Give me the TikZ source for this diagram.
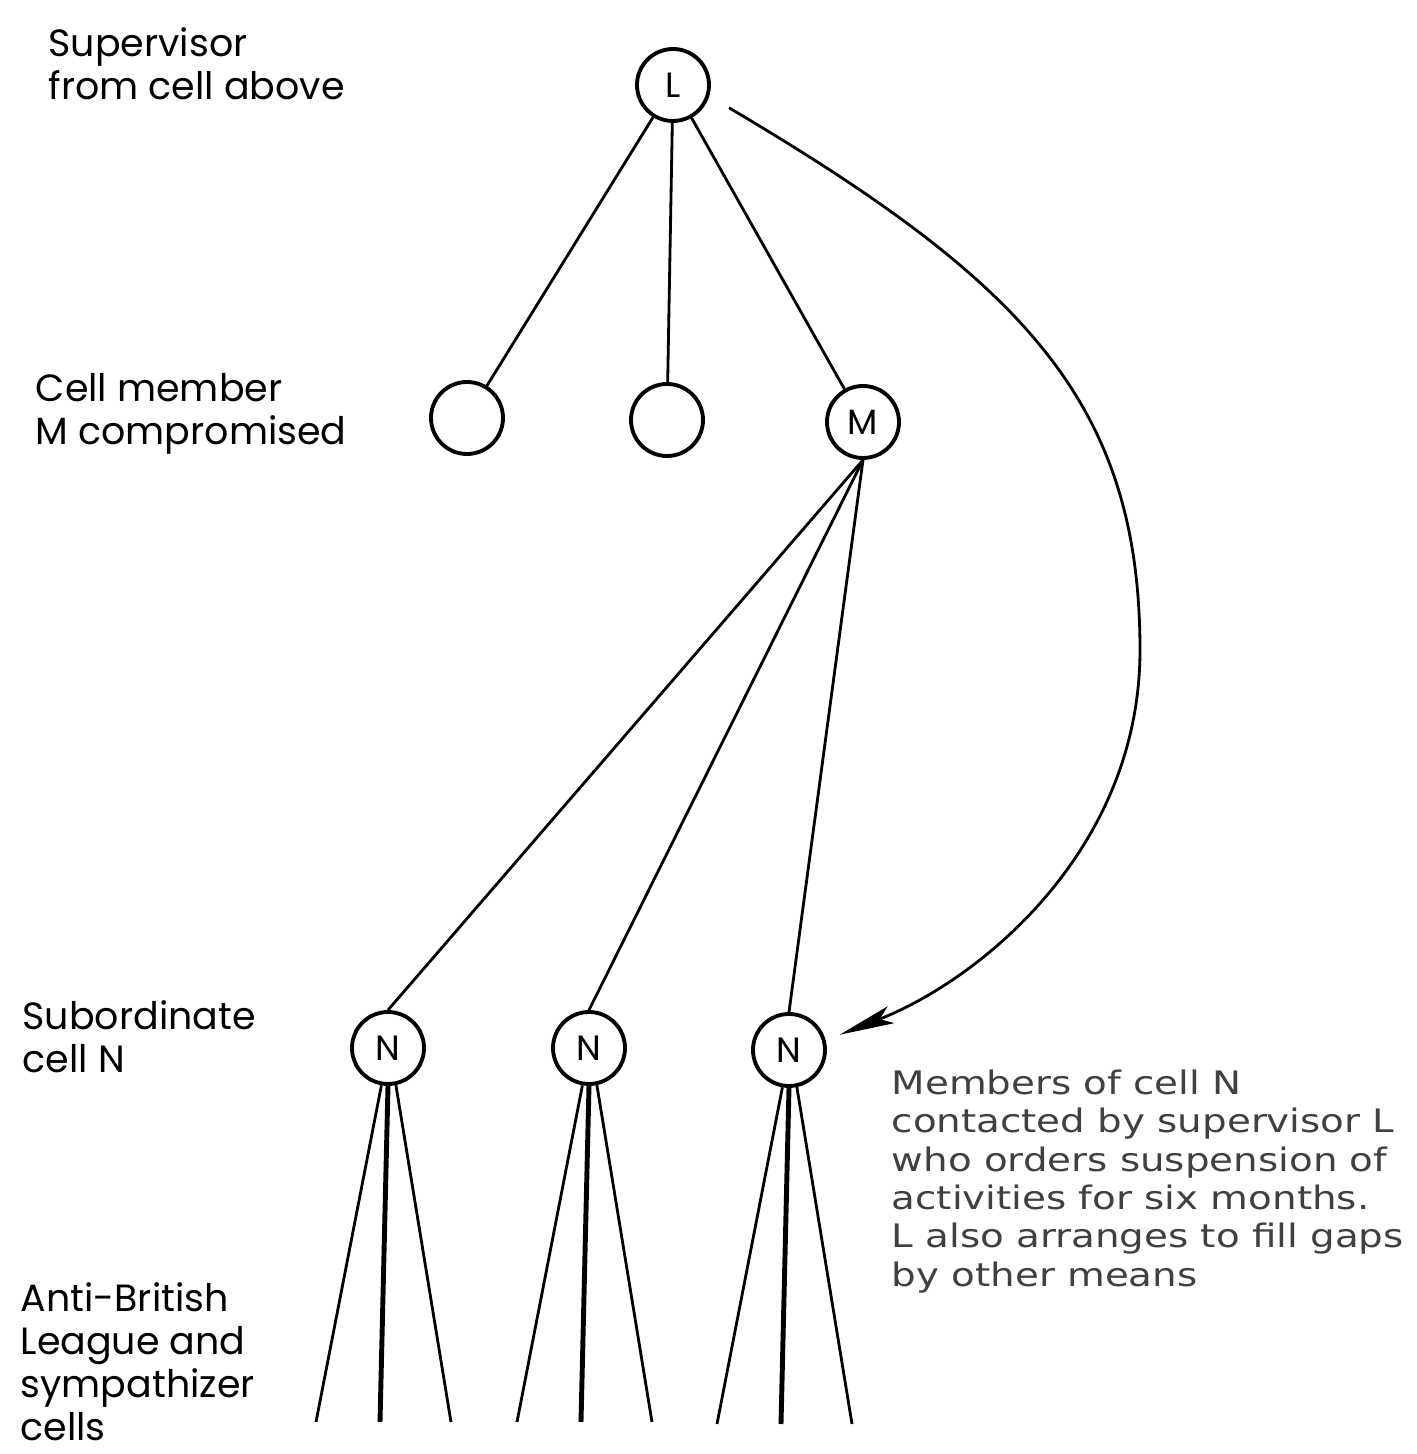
\documentclass[tikz,border=0pt]{standalone}
\usepackage{fontspec}
\setmainfont{Poppins}
\newfontfamily\notefont[FakeStretch=1.2]{DejaVu Sans}
\usetikzlibrary{arrows.meta,calc}

\begin{document}
\begin{tikzpicture}[
    cell/.style={circle,draw,line width=1.1pt,minimum size=0.72cm,inner sep=0pt,font=\fontsize{10}{11}\selectfont},
    lbl/.style={anchor=west,align=left,inner sep=0pt,font=\fontsize{10.8}{12.3}\selectfont},
    link/.style={line width=0.8pt},
    leg/.style={line width=0.8pt},
    mainleg/.style={line width=1.4pt}]
  \useasboundingbox (0,0) rectangle (14.16,14.54);

  % supervisor and his cell
  \node[cell] (L) at (6.73,13.69) {L};
  \node[cell] (c1) at (4.67,10.36) {};
  \node[cell] (c2) at (6.67,10.34) {};
  \node[cell] (M) at (8.63,10.32) {M};
  % cells run by M
  \node[cell] (n1) at (3.88,4.06) {N};
  \node[cell] (n2) at (5.89,4.06) {N};
  \node[cell] (n3) at (7.89,4.04) {N};

  \foreach \c in {c1,c2,M}
    \draw[link] (L) -- (\c);
  \foreach \n in {n1,n2,n3}
    \draw[link] (M.south) -- (\n.north);

  % sympathizer cells hanging below each N
  \foreach \n in {n1,n2,n3} {
    \path (\n) ++(-0.72,-3.74) coordinate (\n-a)
          (\n) ++(-0.08,-3.74) coordinate (\n-b)
          (\n) ++(0.63,-3.74) coordinate (\n-c);
    \draw[leg] (\n.-100) -- (\n-a);
    \draw[mainleg] (\n.south) -- (\n-b);
    \draw[leg] (\n.-78) -- (\n-c);
  }

  % L goes round M straight to the third N
  \coordinate (bend) at (11.40,8.04);
  \draw[link,-{Stealth[length=5.5mm,width=1.8mm,inset=1.2mm]},shorten <=2.3mm,shorten >=1.5mm]
    (L.-17) .. controls (10.20,11.74) and (11.40,10.54) .. (bend)
    .. controls (11.40,6.04) and (9.80,4.74) .. (n3.15);

  \node[lbl] (sup) at (0.48,13.905) {Supervisor\\from cell above};
  \node[lbl] (mem) at (0.35,10.40) {Cell member\\M compromised};
  \node[lbl] (sub) at (0.22,4.17) {Subordinate\\cell N};
  \node[lbl,anchor=south west] (abl) at (0.20,0.12) {Anti-British\\League and\\sympathizer\\cells};
  \node[lbl,font=\notefont\fontsize{9.2}{10.9}\selectfont,text=black!75] (note) at (8.91,2.725)
    {Members of cell N\\contacted by supervisor L\\who orders suspension of\\activities for six months.\\L also arranges to fill gaps\\by other means};
\end{tikzpicture}
\end{document}
